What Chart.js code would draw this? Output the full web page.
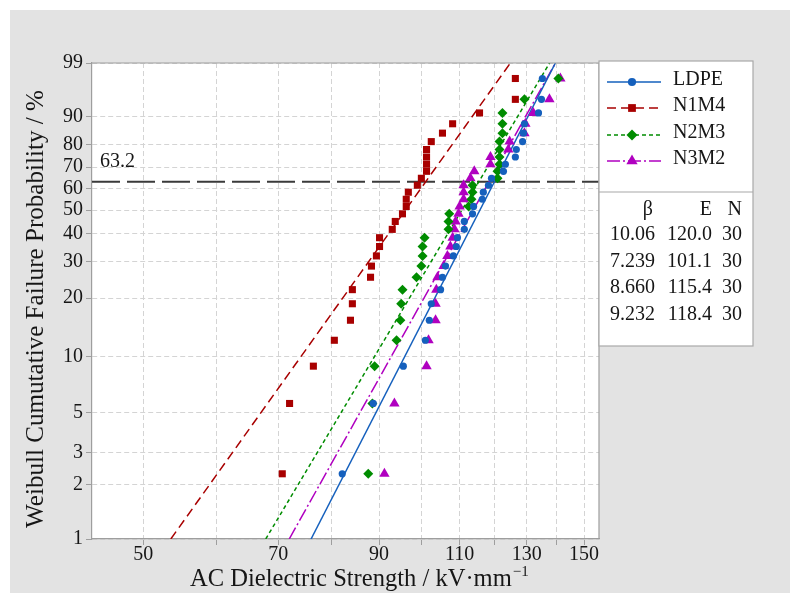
<!DOCTYPE html>
<html>
<head>
<meta charset="utf-8">
<script src="https://cdn.jsdelivr.net/npm/chart.js@4"></script>
<style>
  html, body { margin: 0; padding: 0; background: #ffffff; }
  #panel { position: absolute; left: 10px; top: 10px; width: 780px; height: 583px; background: #e3e3e3; }
  canvas { display: block; }
</style>
</head>
<body>
<div id="panel"><canvas id="weibull" width="780" height="583"></canvas></div>
<script>
// Sample names
const seriesNames = ['LDPE', 'N1M4', 'N2M3', 'N3M2'];

// Median-rank failure probabilities (%) shared by all 30-sample sets
const rankPercent = [2.30, 5.59, 8.88, 12.17, 15.46, 18.75, 22.04, 25.33, 28.62, 31.91,
                     35.20, 38.49, 41.78, 45.07, 48.36, 51.64, 54.93, 58.22, 61.51, 64.80,
                     68.09, 71.38, 74.67, 77.96, 81.25, 84.54, 87.83, 91.12, 94.41, 97.70];

// Breakdown strengths, kV/mm, sorted ascending
const ldpeStrength = [82.1, 88.7, 95.6, 101.0, 102.0, 102.5, 104.9, 105.4, 106.2, 108.3,
                      109.1, 109.4, 111.3, 111.3, 113.6, 113.9, 116.4, 116.7, 118.2, 119.1,
                      122.7, 123.3, 126.4, 126.7, 128.7, 129.0, 129.3, 133.9, 134.9, 135.2];
const n1m4Strength = [70.7, 72.0, 76.4, 80.5, 83.8, 84.2, 84.2, 88.1, 88.3, 89.4,
                      90.1, 90.1, 93.0, 93.7, 95.4, 96.3, 96.3, 96.8, 99.0, 100.0,
                      101.3, 101.3, 101.3, 101.3, 102.5, 105.4, 108.1, 115.6, 126.4, 126.4];
const n2m3Strength = [87.6, 88.5, 89.0, 94.0, 94.9, 95.1, 95.4, 98.8, 100.0, 100.3,
                      100.3, 100.8, 107.0, 107.0, 107.2, 112.5, 113.3, 113.6, 113.6, 120.9,
                      120.9, 121.5, 121.5, 121.5, 121.5, 122.4, 122.4, 122.4, 129.3, 140.7];
const n3m2Strength = [91.2, 93.5, 101.3, 101.8, 103.6, 103.6, 103.8, 104.1, 105.7, 106.7,
                      107.5, 108.1, 108.6, 108.9, 109.7, 110.0, 111.1, 111.1, 111.1, 113.0,
                      114.1, 118.8, 118.8, 124.2, 124.6, 129.3, 129.6, 132.2, 137.6, 141.4];

// Weibull fit parameters: shape β, scale E, sample count N
const fitBeta = [10.06, 7.239, 8.660, 9.232];
const fitScale = [120.0, 101.1, 115.4, 118.4];
const sampleCount = [30, 30, 30, 30];

// Axis ticks
const yTickPercents = [1, 2, 3, 5, 10, 20, 30, 40, 50, 60, 70, 80, 90, 99];
const xTickValues = [50, 60, 70, 80, 90, 100, 110, 120, 130, 140, 150];
const xTickLabels = ['50', '', '70', '', '90', '', '110', '', '130', '', '150'];
const xRange = [44, 155.7];
const refPercent = 63.2;

// Weibull probability transform: ln(-ln(1 - F))
const W = p => Math.log(-Math.log(1 - p / 100));
// Strength at which a fitted Weibull reaches probability p (%)
const fitStrength = (p, beta, scale) => scale * Math.pow(-Math.log(1 - p / 100), 1 / beta);

const strengths = [ldpeStrength, n1m4Strength, n2m3Strength, n3m2Strength];

const looks = [
  { color: '#1560bd', dash: [], point: 'circle', radius: 3.6 },
  { color: '#a80000', dash: [9, 5], point: 'rect', radius: 5 },
  { color: '#008c00', dash: [4, 3], point: 'rectRot', radius: 5 },
  { color: '#b000c0', dash: [13, 3, 2, 3], point: 'triangle', radius: 6 }
];

const textColor = '#161616';
const serif = '"Liberation Serif", "Times New Roman", serif';
Chart.defaults.font.family = serif;
Chart.defaults.color = textColor;

const datasets = [];
strengths.forEach((vals, s) => {
  datasets.push({
    label: seriesNames[s],
    data: vals.map((v, i) => ({ x: v, y: W(rankPercent[i]) })),
    showLine: false,
    pointStyle: looks[s].point,
    pointRadius: looks[s].radius,
    pointHoverRadius: looks[s].radius,
    pointBackgroundColor: looks[s].color,
    pointBorderWidth: 0,
    order: 1
  });
});
strengths.forEach((vals, s) => {
  datasets.push({
    label: seriesNames[s] + ' fit',
    data: [1, 99].map(p => ({ x: fitStrength(p, fitBeta[s], fitScale[s]), y: W(p) })),
    showLine: true,
    borderColor: looks[s].color,
    borderWidth: 1.5,
    borderDash: looks[s].dash,
    pointRadius: 0,
    order: 2
  });
});
datasets.push({
  label: 'characteristic',
  data: xRange.map(x => ({ x: x, y: W(refPercent) })),
  showLine: true,
  borderColor: '#3a3a3a',
  borderWidth: 2,
  borderDash: [28, 7],
  pointRadius: 0,
  order: 3
});

function drawMarker(ctx, style, x, y, r, color) {
  ctx.save();
  ctx.fillStyle = color;
  ctx.beginPath();
  if (style === 'circle') {
    ctx.arc(x, y, r, 0, Math.PI * 2);
  } else if (style === 'rect') {
    const s = r * Math.SQRT1_2;
    ctx.rect(x - s, y - s, 2 * s, 2 * s);
  } else if (style === 'rectRot') {
    ctx.moveTo(x, y - r); ctx.lineTo(x + r, y); ctx.lineTo(x, y + r); ctx.lineTo(x - r, y);
    ctx.closePath();
  } else {
    for (let k = 0; k < 3; k++) {
      const a = k * 2 * Math.PI / 3;
      const px = x + Math.sin(a) * r, py = y - Math.cos(a) * r;
      if (k === 0) ctx.moveTo(px, py); else ctx.lineTo(px, py);
    }
    ctx.closePath();
  }
  ctx.fill();
  ctx.restore();
}

function fitFont(ctx, text, target, base) {
  ctx.font = base + 'px ' + serif;
  const w = ctx.measureText(text).width;
  return base * target / w;
}

// White plotting area behind grid and data
const plotBackground = {
  id: 'plotBackground',
  beforeDraw(chart) {
    const { ctx, chartArea: a } = chart;
    ctx.save();
    ctx.fillStyle = '#ffffff';
    ctx.fillRect(a.left, a.top, a.right - a.left, a.bottom - a.top);
    ctx.restore();
  }
};

// Frame, axis titles, 63.2 label and the legend / parameter table
const decorations = {
  id: 'decorations',
  afterDraw(chart) {
    const ctx = chart.ctx;
    const area = chart.chartArea;
    const yScale = chart.scales.y;

    ctx.save();
    // top and right edges of the plot frame
    ctx.strokeStyle = '#9e9e9e';
    ctx.lineWidth = 1.2;
    ctx.beginPath();
    ctx.moveTo(area.left, area.top);
    ctx.lineTo(area.right, area.top);
    ctx.lineTo(area.right, area.bottom);
    ctx.stroke();

    ctx.fillStyle = textColor;
    // 63.2 marker text
    ctx.font = '20px ' + serif;
    ctx.textAlign = 'left';
    ctx.textBaseline = 'alphabetic';
    ctx.fillText(String(refPercent), area.left + 8, yScale.getPixelForValue(W(refPercent)) - 15);

    // x axis title with superscript unit exponent
    const xTitle = 'AC Dielectric Strength / kV·mm';
    const xs = fitFont(ctx, xTitle, 322, 24);
    ctx.font = xs + 'px ' + serif;
    ctx.fillText(xTitle, 180, 576);
    const tw = ctx.measureText(xTitle).width;
    ctx.font = Math.round(xs * 0.6) + 'px ' + serif;
    ctx.fillText('\u2212' + '1', 180 + tw + 1, 566);

    // y axis title
    const yTitle = 'Weibull Cumutative Failure Probability / %';
    const ys = fitFont(ctx, yTitle, 438, 24);
    ctx.save();
    ctx.translate(33, 299);
    ctx.rotate(-Math.PI / 2);
    ctx.font = ys + 'px ' + serif;
    ctx.textAlign = 'center';
    ctx.fillText(yTitle, 0, 0);
    ctx.restore();

    // legend box
    const bx = 589, by = 51, bw = 154, bh = 285, divY = 182;
    ctx.fillStyle = '#ffffff';
    ctx.fillRect(bx, by, bw, bh);
    ctx.strokeStyle = '#a8a8a8';
    ctx.lineWidth = 1.2;
    ctx.strokeRect(bx, by, bw, bh);
    ctx.beginPath();
    ctx.moveTo(bx, divY); ctx.lineTo(bx + bw, divY);
    ctx.stroke();

    const rowBase = [75, 101, 128, 154];
    seriesNames.forEach((name, s) => {
      const my = rowBase[s] - 3;
      ctx.save();
      ctx.strokeStyle = looks[s].color;
      ctx.lineWidth = 1.5;
      ctx.setLineDash(looks[s].dash);
      ctx.beginPath();
      ctx.moveTo(597, my); ctx.lineTo(651, my);
      ctx.stroke();
      ctx.restore();
      drawMarker(ctx, looks[s].point, 622, my, looks[s].radius + 0.5, looks[s].color);
      ctx.fillStyle = textColor;
      ctx.font = '20px ' + serif;
      ctx.textAlign = 'left';
      ctx.fillText(name, 663, rowBase[s]);
    });

    // parameter table
    ctx.font = '20px ' + serif;
    ctx.textAlign = 'right';
    ctx.fillStyle = textColor;
    const cols = [645, 702, 732];
    ctx.fillText('\u03B2', cols[0] - 2, 205);
    ctx.fillText('E', cols[1], 205);
    ctx.fillText('N', cols[2], 205);
    const tableBase = [230, 257, 283, 310];
    seriesNames.forEach((name, s) => {
      ctx.fillText(fitBeta[s].toPrecision(4), cols[0], tableBase[s]);
      ctx.fillText(fitScale[s].toFixed(1), cols[1], tableBase[s]);
      ctx.fillText(String(sampleCount[s]), cols[2], tableBase[s]);
    });
    ctx.restore();
  }
};

new Chart(document.getElementById('weibull'), {
  type: 'scatter',
  data: { datasets },
  options: {
    responsive: false,
    animation: false,
    events: [],
    layout: { padding: { left: 0, top: 53, right: 191, bottom: 0 } },
    plugins: { legend: { display: false }, tooltip: { enabled: false } },
    scales: {
      x: {
        type: 'logarithmic',
        min: xRange[0],
        max: xRange[1],
        afterBuildTicks: scale => { scale.ticks = xTickValues.map(v => ({ value: v })); },
        afterFit: scale => { scale.height = 54; },
        ticks: {
          autoSkip: false,
          maxRotation: 0,
          padding: -2,
          font: { size: 20 },
          color: textColor,
          callback: (value, index) => xTickLabels[index]
        },
        grid: { color: '#d4d4d4', lineWidth: 1, tickLength: 6, tickColor: '#9e9e9e', tickBorderDash: [] },
        border: { color: '#9e9e9e', width: 1.2, dash: [5, 3] }
      },
      y: {
        type: 'linear',
        min: W(yTickPercents[0]),
        max: W(yTickPercents[yTickPercents.length - 1]),
        afterBuildTicks: scale => { scale.ticks = yTickPercents.map(p => ({ value: W(p) })); },
        afterFit: scale => { scale.width = 82; },
        ticks: {
          autoSkip: false,
          padding: 3,
          font: { size: 20 },
          color: textColor,
          callback: (value, index) => String(yTickPercents[index])
        },
        grid: { color: '#d4d4d4', lineWidth: 1, tickLength: 6, tickColor: '#9e9e9e', tickBorderDash: [] },
        border: { color: '#9e9e9e', width: 1.2, dash: [5, 3] }
      }
    }
  },
  plugins: [plotBackground, decorations]
});
</script>
</body>
</html>
